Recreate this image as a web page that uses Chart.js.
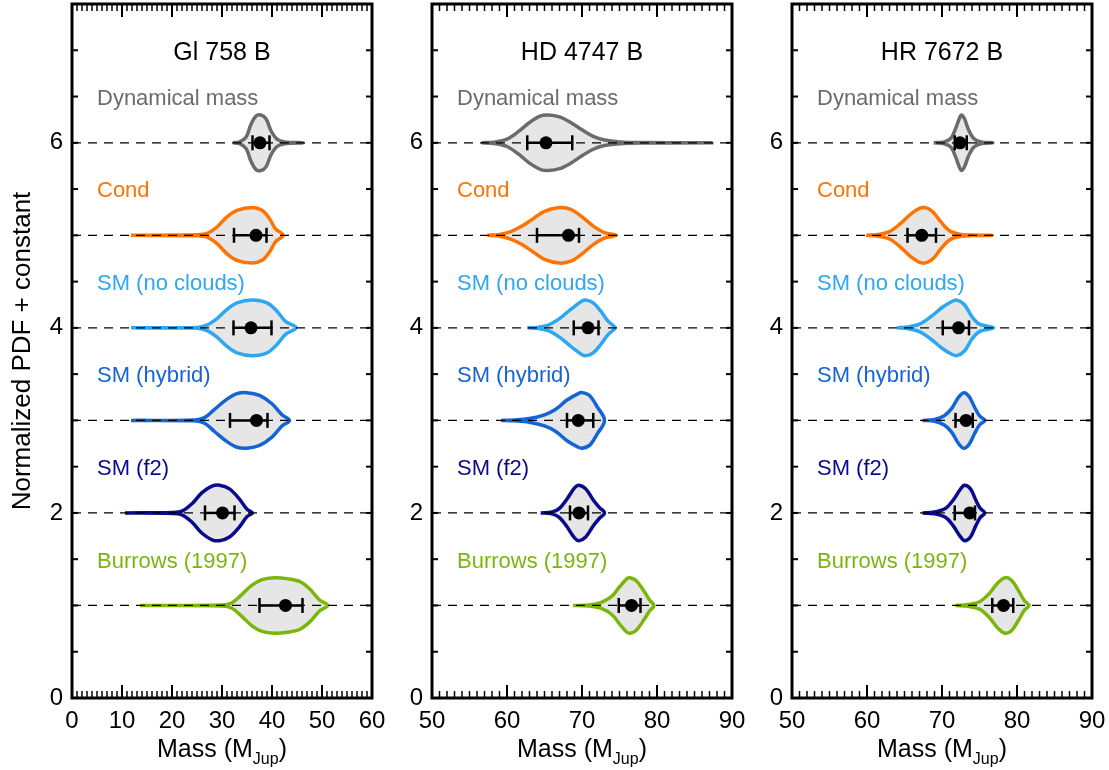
<!DOCTYPE html>
<html>
<head>
<meta charset="utf-8">
<script src="https://cdn.jsdelivr.net/npm/chart.js@4.4.1/dist/chart.umd.min.js"></script>
<style>
  body { margin: 0; background: #fff; }
  canvas { position: absolute; top: 0; }
</style>
</head>
<body>
<canvas id="c1" width="392" height="770" style="left:0px"></canvas>
<canvas id="c2" width="380" height="770" style="left:372px"></canvas>
<canvas id="c3" width="377" height="770" style="left:732px"></canvas>
<script>
'use strict'

//data
const objects = ['Gl 758 B', 'HD 4747 B', 'HR 7672 B'];
const models = ['Dynamical mass', 'Cond', 'SM (no clouds)', 'SM (hybrid)', 'SM (f2)', 'Burrows (1997)'];
const levels = [6, 5, 4, 3, 2, 1];
const modelColors = ['#6b6b6b', '#ff7300', '#2da7f2', '#1464d4', '#0a0a8c', '#7cb60c'];
const massRanges = [[0, 60], [50, 90], [50, 90]];
const yTicks = [0, 2, 4, 6];

// violin outlines: mass grid and half width (PDF, normalized) for each model
const gl758Mass = [
  [32.2, 33.5, 34.8, 35.8, 36.8, 37.8, 38.8, 39.8, 41, 42.5, 46.2],
  [11.8, 25, 27, 29, 31, 33, 36, 38, 39.5, 40.7, 42.2],
  [11.8, 25, 27, 29, 31, 33, 36, 39, 41, 42.7, 44.8],
  [11.8, 24.5, 26.5, 28.5, 31, 33, 35, 37.5, 40, 42, 43.5],
  [10.6, 20, 22, 24, 26, 28, 29.5, 31.5, 33.5, 35, 36.1],
  [13.6, 30, 32, 34, 36, 38, 40.5, 43, 45.5, 47.5, 49.5, 51.1]
];
const gl758Width = [
  [0, 0.01, 0.06, 0.2, 0.29, 0.30, 0.26, 0.13, 0.04, 0.01, 0],
  [0, 0.005, 0.02, 0.09, 0.2, 0.27, 0.30, 0.27, 0.18, 0.07, 0],
  [0, 0.005, 0.03, 0.1, 0.2, 0.27, 0.30, 0.27, 0.18, 0.07, 0],
  [0, 0.005, 0.03, 0.12, 0.23, 0.29, 0.30, 0.27, 0.18, 0.06, 0],
  [0, 0.005, 0.02, 0.1, 0.22, 0.29, 0.30, 0.26, 0.15, 0.04, 0],
  [0, 0.005, 0.03, 0.12, 0.22, 0.28, 0.30, 0.29, 0.26, 0.18, 0.06, 0]
];
const gl758Median = [37.6, 36.8, 35.8, 36.9, 30.1, 42.7];
const gl758Lo = [36.1, 32.4, 32.3, 31.6, 26.6, 37.5];
const gl758Hi = [39.5, 38.9, 39.9, 39.1, 32.5, 46.1];

const hd4747Mass = [
  [56.6, 58.5, 60, 61.5, 63, 64.5, 65.5, 67, 68.5, 70, 71.5, 73, 75, 78, 87.3],
  [57.4, 59, 60.5, 62, 63.5, 65, 67, 68.5, 70, 71.5, 73, 74.6],
  [62.7, 64, 65.5, 67, 68.5, 70, 70.6, 71.5, 72.5, 73.5, 74.4],
  [59.2, 61, 63, 65, 66.5, 68, 69.5, 70, 71, 72, 73],
  [64.5, 66, 67, 68, 69, 69.6, 70.5, 71.5, 72.3, 73],
  [68.8, 71, 72.5, 74, 75, 76, 76.4, 77.2, 78.3, 79, 79.6]
];
const hd4747Width = [
  [0, 0.01, 0.04, 0.12, 0.22, 0.29, 0.30, 0.28, 0.22, 0.14, 0.07, 0.03, 0.01, 0.003, 0],
  [0, 0.01, 0.04, 0.10, 0.18, 0.26, 0.30, 0.28, 0.2, 0.1, 0.03, 0],
  [0, 0.005, 0.03, 0.1, 0.2, 0.29, 0.30, 0.27, 0.18, 0.07, 0],
  [0, 0.005, 0.02, 0.06, 0.12, 0.22, 0.29, 0.30, 0.27, 0.15, 0],
  [0, 0.01, 0.05, 0.15, 0.27, 0.30, 0.26, 0.14, 0.06, 0],
  [0, 0.005, 0.03, 0.1, 0.2, 0.29, 0.30, 0.27, 0.15, 0.06, 0]
];
const hd4747Median = [65.2, 68.2, 70.8, 69.5, 69.6, 76.6];
const hd4747Lo = [62.7, 64.0, 68.9, 68.0, 68.4, 74.9];
const hd4747Hi = [68.7, 69.6, 72.2, 71.5, 70.8, 77.8];

const hr7672Mass = [
  [68.9, 70.3, 71.2, 71.8, 72.3, 72.6, 73.0, 73.5, 74.2, 75.2, 76.8],
  [59.9, 61.5, 63, 64.5, 66, 67.4, 68.7, 69.8, 71, 72.5, 74, 76.7],
  [64, 65.5, 67, 68.5, 70, 71.2, 72, 73, 74, 75, 76.9],
  [67.4, 69, 70.3, 71.3, 72.2, 72.9, 73.6, 74.3, 75, 75.7],
  [67.4, 69, 70.5, 71.5, 72.4, 73.0, 73.8, 74.5, 75.1, 75.7],
  [71.8, 73.5, 75, 76.3, 77.4, 78.4, 79.3, 80.2, 81, 81.6]
];
const hr7672Width = [
  [0, 0.01, 0.05, 0.15, 0.26, 0.30, 0.26, 0.15, 0.05, 0.01, 0],
  [0, 0.01, 0.04, 0.13, 0.24, 0.30, 0.26, 0.15, 0.05, 0.01, 0.003, 0],
  [0, 0.01, 0.04, 0.12, 0.22, 0.28, 0.30, 0.25, 0.12, 0.04, 0],
  [0, 0.01, 0.05, 0.13, 0.25, 0.30, 0.26, 0.15, 0.05, 0],
  [0, 0.01, 0.05, 0.14, 0.25, 0.30, 0.26, 0.14, 0.05, 0],
  [0, 0.01, 0.04, 0.13, 0.24, 0.30, 0.27, 0.16, 0.05, 0]
];
const hr7672Median = [72.4, 67.3, 72.2, 73.2, 73.7, 78.2];
const hr7672Lo = [71.7, 65.4, 70.1, 71.8, 71.7, 76.7];
const hr7672Hi = [73.3, 69.2, 73.6, 74.1, 74.4, 79.5];

const FONT = '"Liberation Sans", Arial, sans-serif';

//helpers
function violinPoints(mass, width, level) {
  let pts = [];
  for (let i = 0; i < mass.length; i++) {
    pts.push({x: mass[i], y: level + width[i]});
  }
  for (let i = mass.length - 2; i >= 0; i--) {
    pts.push({x: mass[i], y: level - width[i]});
  }
  return pts;
}

function buildDatasets(range, mass, width, median, lo, hi) {
  let sets = [];
  for (let i = 0; i < models.length; i++) {
    sets.push({
      data: violinPoints(mass[i], width[i], levels[i]),
      borderColor: modelColors[i],
      backgroundColor: '#e6e6e6',
      borderWidth: 3.5,
      fill: 'shape',
      tension: 0.35,
      pointRadius: 0,
      order: 3
    });
    sets.push({
      data: [{x: range[0], y: levels[i]}, {x: range[1], y: levels[i]}],
      borderColor: '#000',
      borderWidth: 1.2,
      borderDash: [9, 7],
      pointRadius: 0,
      fill: false,
      order: 2
    });
    sets.push({
      data: [{x: lo[i], y: levels[i]}, {x: hi[i], y: levels[i]}],
      borderColor: '#000',
      borderWidth: 2.5,
      pointStyle: 'line',
      pointRotation: 90,
      pointRadius: 7.5,
      pointBorderWidth: 2.5,
      pointBorderColor: '#000',
      fill: false,
      order: 1
    });
  }
  sets.push({
    data: median.map((m, i) => ({x: m, y: levels[i]})),
    showLine: false,
    pointRadius: 6.5,
    pointBackgroundColor: '#000',
    pointBorderWidth: 0,
    fill: false,
    order: 0
  });
  return sets;
}

// frame with inward ticks, panel title, model names, axis titles
const framePlugin = {
  id: 'frame',
  afterDraw(chart, args, opts) {
    const {ctx, chartArea: a} = chart;
    const x = chart.scales.x;
    const y = chart.scales.y;
    ctx.save();
    ctx.strokeStyle = '#000';
    function seg(x1, y1, x2, y2) {
      ctx.beginPath(); ctx.moveTo(x1, y1); ctx.lineTo(x2, y2); ctx.stroke();
    }
    for (let v = x.min; v <= x.max; v++) {
      const px = x.getPixelForValue(v);
      const major = v % 10 === 0;
      const len = major ? 13 : 7;
      ctx.lineWidth = major ? 2 : 1.5;
      seg(px, a.bottom, px, a.bottom - len);
      seg(px, a.top, px, a.top + len);
    }
    ctx.lineWidth = 2;
    for (let v = 0.5; v < y.max; v += 0.5) {
      const py = y.getPixelForValue(v);
      seg(a.left, py, a.left + 6, py);
      seg(a.right, py, a.right - 6, py);
    }
    ctx.lineWidth = 3;
    ctx.strokeRect(a.left, a.top, a.right - a.left, a.bottom - a.top);

    const cx = (a.left + a.right) / 2;
    ctx.fillStyle = '#000';
    ctx.textBaseline = 'alphabetic';
    ctx.textAlign = 'center';
    ctx.font = '25px ' + FONT;
    ctx.fillText(opts.title, cx, y.getPixelForValue(6.9));

    ctx.textAlign = 'left';
    ctx.font = '22px ' + FONT;
    for (let i = 0; i < models.length; i++) {
      ctx.fillStyle = modelColors[i];
      ctx.fillText(models[i], a.left + 25, y.getPixelForValue(levels[i] + 0.41));
    }

    // x title with subscript
    ctx.fillStyle = '#000';
    const big = '25px ' + FONT;
    const small = '16px ' + FONT;
    ctx.font = big;
    const w1 = ctx.measureText('Mass (M').width;
    const w3 = ctx.measureText(')').width;
    ctx.font = small;
    const w2 = ctx.measureText('Jup').width;
    let sx = cx - (w1 + w2 + w3) / 2;
    const base = 757;
    ctx.font = big;
    ctx.fillText('Mass (M', sx, base);
    ctx.font = small;
    ctx.fillText('Jup', sx + w1, base + 7);
    ctx.font = big;
    ctx.fillText(')', sx + w1 + w2, base);

    if (opts.yTitle) {
      ctx.save();
      ctx.translate(23, (a.top + a.bottom) / 2);
      ctx.rotate(-Math.PI / 2);
      ctx.textAlign = 'center';
      ctx.textBaseline = 'middle';
      ctx.font = '26px ' + FONT;
      ctx.fillText(opts.yTitle, 0, 0);
      ctx.restore();
    }
    ctx.restore();
  }
};

function makePanel(canvasId, idx, yWidth, padRight, datasets, yTitle) {
  const range = massRanges[idx];
  const config = {
    type: 'line',
    data: {datasets: datasets},
    options: {
      responsive: false,
      animation: false,
      events: [],
      layout: {padding: {top: 4, right: padRight, left: 0, bottom: 0}, autoPadding: false},
      plugins: {
        legend: {display: false},
        tooltip: {enabled: false},
        frame: {title: objects[idx], yTitle: yTitle}
      },
      scales: {
        x: {
          type: 'linear',
          min: range[0],
          max: range[1],
          grid: {display: false, drawTicks: false},
          border: {display: false},
          ticks: {
            stepSize: 10,
            autoSkip: false,
            maxRotation: 0,
            padding: 9,
            color: '#000',
            font: {family: FONT, size: 24}
          },
          afterFit: (scale) => {
            scale.height = 72;
            scale.paddingLeft = 0;
            scale.paddingRight = 0;
          }
        },
        y: {
          type: 'linear',
          min: 0,
          max: 7.5,
          grid: {display: false, drawTicks: false},
          border: {display: false},
          afterBuildTicks: (scale) => { scale.ticks = yTicks.map(v => ({value: v})); },
          ticks: {
            padding: 9,
            color: '#000',
            font: {family: FONT, size: 24}
          },
          afterFit: (scale) => {
            scale.width = yWidth;
            scale.paddingTop = 0;
            scale.paddingBottom = 0;
          }
        }
      }
    },
    plugins: [framePlugin]
  };
  return new Chart(document.getElementById(canvasId), config);
}

makePanel('c1', 0, 72, 20, buildDatasets(massRanges[0], gl758Mass, gl758Width, gl758Median, gl758Lo, gl758Hi), 'Normalized PDF + constant');
makePanel('c2', 1, 60, 20, buildDatasets(massRanges[1], hd4747Mass, hd4747Width, hd4747Median, hd4747Lo, hd4747Hi), null);
makePanel('c3', 2, 60, 17, buildDatasets(massRanges[2], hr7672Mass, hr7672Width, hr7672Median, hr7672Lo, hr7672Hi), null);
</script>
</body>
</html>
